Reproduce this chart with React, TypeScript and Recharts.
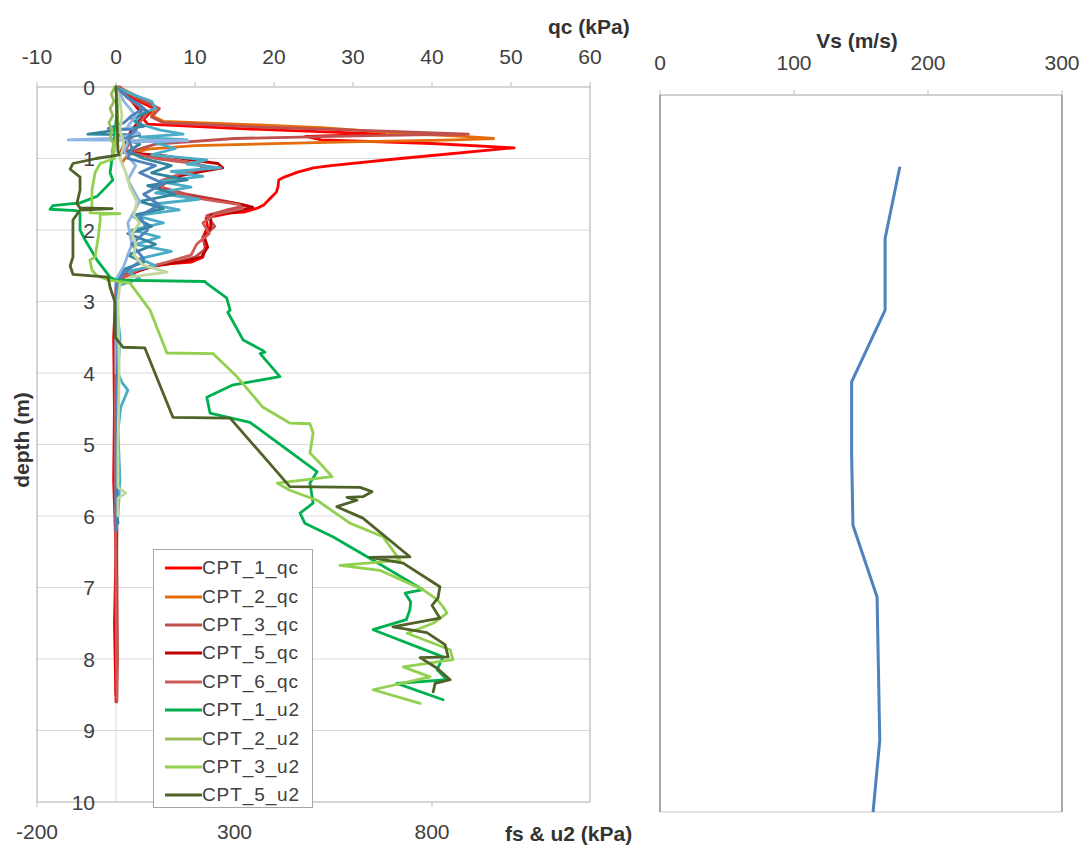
import React from "react";
import {
  ScatterChart,
  Scatter,
  XAxis,
  YAxis,
  CartesianGrid,
  ReferenceLine,
  Legend,
} from "recharts";

// depth (m), value
type Row = [number, number];

const depthTicks = [0, 1, 2, 3, 4, 5, 6, 7, 8, 9, 10];
const qcTicks = [-10, 0, 10, 20, 30, 40, 50, 60];
const fsTicks = [-200, 300, 800];
const vsTicks = [0, 100, 200, 300];

// ---- qc (kPa), top axis ----
const cpt1Qc: Row[] = [
  [0, 0.5], [0.15, 2], [0.3, 4.8], [0.45, 3.5], [0.52, 4], [0.58, 15], [0.66, 34], [0.69, 24],
  [0.74, 26], [0.79, 40], [0.85, 50.4], [1.0, 36], [1.1, 27.2], [1.13, 25], [1.19, 23],
  [1.26, 21.3], [1.3, 20.6], [1.4, 20.5], [1.47, 20.3], [1.55, 19.6], [1.65, 18.7], [1.69, 18],
  [1.75, 16.2], [1.76, 14.6], [1.83, 11.4], [1.96, 11.6], [2.1, 11], [2.24, 11.3], [2.38, 11],
  [2.45, 9.5], [2.47, 7], [2.52, 4], [2.66, 1], [2.8, 0], [3.5, -0.3], [4.5, -0.2], [5.5, -0.3],
  [6.5, 0], [7.5, -0.2], [8.6, 0],
];
const cpt2Qc: Row[] = [
  [0, 0.3], [0.12, 2.5], [0.28, 5], [0.4, 4.5], [0.48, 6], [0.53, 18], [0.57, 26], [0.6, 30],
  [0.65, 36], [0.69, 44], [0.72, 47.8], [0.74, 43], [0.77, 28], [0.82, 10], [0.87, 4],
  [0.95, 1.5], [1.05, 0.8],
];
const cpt3Qc: Row[] = [
  [0, 0.3], [0.15, 2.5], [0.3, 5.5], [0.42, 4.5], [0.5, 6], [0.56, 18], [0.62, 35], [0.66, 44.6],
  [0.68, 32], [0.72, 15], [0.8, 5], [0.9, 2], [0.97, 4], [1.05, 9], [1.12, 12], [1.18, 9.5],
  [1.28, 6.5], [1.38, 5], [1.5, 9], [1.6, 14], [1.66, 16.5], [1.72, 14], [1.8, 11.5],
  [1.95, 12.5], [2.1, 11], [2.25, 11.5], [2.38, 10], [2.45, 7.5], [2.52, 4], [2.62, 1.2],
  [2.75, 0.2], [3.5, 0.1], [5, 0.2], [6.5, 0.1], [8, 0.2], [8.6, 0.1],
];
const cpt5Qc: Row[] = [
  [0, 0], [0.2, 2], [0.4, 3.5], [0.6, 2], [0.8, 1], [0.91, 0.6], [0.96, 6], [1.02, 9.5],
  [1.07, 12.9], [1.13, 13.5], [1.19, 10.4], [1.26, 7.3], [1.35, 6.1], [1.41, 5.4], [1.49, 7],
  [1.56, 11.1], [1.63, 15.4], [1.68, 17.3], [1.75, 15], [1.79, 12], [1.96, 12], [2.1, 11.2],
  [2.24, 11.6], [2.38, 10.8], [2.45, 8.2], [2.49, 5.3], [2.6, 1.9], [2.7, 0.3], [3, 0],
  [5, 0.1], [7, 0], [8.5, 0],
];
const cpt6Qc: Row[] = [
  [0, 0.2], [0.2, 2], [0.35, 4], [0.5, 3], [0.7, 2], [0.9, 1.2], [1.0, 5], [1.08, 10.5],
  [1.15, 11], [1.22, 8], [1.32, 5.5], [1.45, 6], [1.55, 10], [1.64, 15.5], [1.7, 16],
  [1.78, 12.5], [1.9, 11], [2.05, 11.8], [2.2, 10.2], [2.35, 9.5], [2.45, 6.5], [2.55, 3],
  [2.68, 0.5], [3, 0], [5, -0.1], [7, 0], [8.55, 0.1],
];

// ---- fs (kPa), bottom axis, not in legend ----
const cpt1Fs: Row[] = [
  [0, 0], [0.1, 40], [0.2, 90], [0.3, 100], [0.38, 60], [0.5, 50], [0.6, 110], [0.66, 170],
  [0.7, 60], [0.74, 180], [0.78, 100], [0.86, 150], [0.95, 90], [1.02, 230], [1.08, 180],
  [1.13, 265], [1.18, 140], [1.25, 220], [1.32, 110], [1.4, 190], [1.48, 100], [1.57, 210],
  [1.64, 90], [1.72, 160], [1.8, 50], [1.9, 120], [2.0, 40], [2.1, 110], [2.2, 50], [2.3, 140],
  [2.4, 60], [2.5, 100], [2.58, 30], [2.68, 60], [2.78, 5], [3.0, 0], [3.5, 10], [4.0, 5],
  [4.13, 15], [4.24, 30], [4.48, 12], [4.8, 5], [5.5, 10], [6.0, 5], [6.2, 0],
];
const cpt2Fs: Row[] = [
  [0, 0], [0.15, 30], [0.25, 60], [0.35, 80], [0.45, 40], [0.55, 70], [0.66, -71], [0.67, 60],
  [0.72, 20], [0.8, 60], [0.9, 30], [1.0, 70], [1.1, 140], [1.2, 90], [1.3, 180], [1.38, 80],
  [1.5, 150], [1.6, 60], [1.7, 120], [1.8, 40], [1.95, 90], [2.05, 30], [2.2, 100], [2.35, 30],
  [2.45, 70], [2.55, 20], [2.7, 5], [3.5, 0], [5.0, 5], [5.8, 0], [6.1, 5],
];
const cpt3Fs: Row[] = [
  [0, 0], [0.2, 20], [0.4, 50], [0.55, 30], [0.65, 60], [0.72, -10], [0.74, -121], [0.75, 182],
  [0.77, 30], [0.9, 20], [1.1, 50], [1.3, 30], [1.6, 60], [1.9, 30], [2.2, 40], [2.5, 20],
  [2.7, 0], [4.0, 0],
];
const cpt5Fs: Row[] = [
  [0, 0], [0.15, 30], [0.3, 70], [0.4, 40], [0.5, 20], [0.58, -20], [0.6, 50], [0.7, 30],
  [0.85, 40], [1.0, 30], [1.1, 100], [1.2, 60], [1.35, 120], [1.5, 70], [1.65, 110], [1.8, 60],
  [2.0, 80], [2.2, 40], [2.4, 70], [2.6, 20], [2.75, 0], [3.5, 5], [5, 0], [6.2, 0],
];
const cpt6Fs: Row[] = [
  [0, 0], [0.2, 10], [0.4, 15], [0.6, 10], [0.8, 20], [1.0, 10], [1.2, 25], [1.4, 35],
  [1.6, 53], [1.8, 45], [1.9, 60], [2.05, 40], [2.2, 50], [2.35, 45], [2.49, 68], [2.59, 129],
  [2.66, 35], [2.75, 10], [3.0, 5], [4.0, 8], [5.0, 5], [5.6, 5], [5.68, 25], [5.75, 5], [6.0, 5],
];

// ---- u2 (kPa), bottom axis ----
const cpt1U2: Row[] = [
  [0, 0], [0.3, 3], [0.6, -2], [0.92, -8], [1.2, -15], [1.3, -8], [1.4, -25], [1.53, -48],
  [1.62, -91], [1.66, -160], [1.71, -167], [1.73, -100], [1.77, -91], [2.0, -91], [2.14, -78],
  [2.42, -48], [2.66, -15], [2.7, 0], [2.72, 225], [2.74, 228], [2.95, 280], [3.12, 289],
  [3.15, 283], [3.54, 322], [3.68, 370], [3.71, 377], [3.73, 365], [4.05, 415], [4.17, 294],
  [4.34, 230], [4.56, 238], [4.69, 339], [5.38, 509], [5.54, 491], [5.82, 499], [5.96, 466],
  [6.1, 478], [6.29, 549], [6.62, 651], [7.03, 777], [7.08, 732], [7.2, 746], [7.31, 744],
  [7.45, 735], [7.59, 651], [7.97, 828], [8.15, 813], [8.29, 838], [8.34, 711], [8.57, 828],
];
const cpt2U2: Row[] = [
  [0, -3], [0.1, -12], [0.2, -5], [0.3, -15], [0.4, -8], [0.5, -18], [0.6, -10], [0.7, -14],
  [0.8, -6], [0.9, -10], [1.0, -5],
];
const cpt3U2: Row[] = [
  [0, 0], [0.5, 5], [0.9, -5], [1.0, -5], [1.07, -40], [1.2, -53], [1.45, -61], [1.7, -61],
  [1.76, -66], [1.77, 10], [1.78, -40], [1.86, -40], [2.1, -45], [2.38, -53], [2.42, -66],
  [2.56, -61], [2.64, -48], [2.7, -20], [2.74, 35], [2.8, 43], [3.12, 86], [3.72, 129],
  [3.73, 246], [4.05, 306], [4.48, 372], [4.7, 440], [4.71, 491], [4.84, 499], [5.12, 491],
  [5.26, 516], [5.45, 547], [5.54, 408], [5.64, 440], [5.78, 509], [6.1, 592], [6.29, 676],
  [6.62, 719], [6.69, 567], [6.76, 668], [7.03, 777], [7.17, 813], [7.27, 828], [7.36, 838],
  [7.5, 803], [7.64, 737], [7.87, 846], [8.01, 853], [8.11, 727], [8.25, 795], [8.43, 651],
  [8.62, 770],
];
const cpt5U2: Row[] = [
  [0, 0], [0.9, 5], [0.95, 8], [1.0, -50], [1.07, -109], [1.15, -116], [1.26, -91],
  [1.44, -91], [1.63, -99], [1.69, -91], [1.7, -10], [1.72, -91], [1.86, -109], [2.38, -109],
  [2.5, -116], [2.62, -109], [2.66, -20], [2.8, -15], [3.0, -3], [3.5, -2], [3.64, 18],
  [3.65, 73], [4.62, 144], [4.63, 289], [5.59, 440], [5.6, 618], [5.66, 648], [5.73, 625],
  [5.74, 585], [5.78, 610], [5.87, 559], [6.03, 625], [6.57, 744], [6.58, 643], [6.66, 727],
  [6.99, 820], [7.15, 815], [7.25, 800], [7.43, 820], [7.55, 701], [7.63, 787], [7.8, 833],
  [7.97, 841], [7.98, 770], [8.13, 813], [8.29, 846], [8.34, 808], [8.46, 803],
];

// ---- Vs (m/s) ----
const vsDepth = [1, 2, 3, 4, 5, 6, 7, 8, 9, 10];
const vsValues = [179, 168, 168, 143, 143, 144, 162, 163, 164, 159];

const qcSeries = [
  { name: "CPT_1_qc", color: "#FF0000", rows: cpt1Qc },
  { name: "CPT_2_qc", color: "#E46C0A", rows: cpt2Qc },
  { name: "CPT_3_qc", color: "#C0504D", rows: cpt3Qc },
  { name: "CPT_5_qc", color: "#C00000", rows: cpt5Qc },
  { name: "CPT_6_qc", color: "#CD5B57", rows: cpt6Qc },
];
const fsSeries = [
  { name: "CPT_1_fs", color: "#4BACC6", rows: cpt1Fs },
  { name: "CPT_2_fs", color: "#31859C", rows: cpt2Fs },
  { name: "CPT_3_fs", color: "#8DB4E2", rows: cpt3Fs },
  { name: "CPT_5_fs", color: "#4F81BD", rows: cpt5Fs },
  { name: "CPT_6_fs", color: "#C4D79B", rows: cpt6Fs },
];
const u2Series = [
  { name: "CPT_1_u2", color: "#00B050", rows: cpt1U2 },
  { name: "CPT_2_u2", color: "#9BBB59", rows: cpt2U2 },
  { name: "CPT_3_u2", color: "#92D050", rows: cpt3U2 },
  { name: "CPT_5_u2", color: "#4F6228", rows: cpt5U2 },
];

const toPts = (rows: Row[]) => rows.map(([d, v]) => ({ d, v }));
const vsPts = vsDepth.map((d, i) => ({ d, v: vsValues[i] }));

const FONT = '"Liberation Sans", Arial, sans-serif';
const TXT = "#404040";
const TICK_FS = 21;
const LINE_W = 2.8;
const noDot = () => <g />;

// left plot frame in page px
const L_LEFT = 37;
const L_WIDTH = 553;
const zeroX = L_LEFT + ((0 - qcTicks[0]) / (qcTicks[qcTicks.length - 1] - qcTicks[0])) * L_WIDTH;

const DepthTick = (props: any) => (
  <text x={zeroX - 21} y={props.y} dy={7.5} textAnchor="end" fill={TXT} fontSize={TICK_FS}>
    {props.payload.value}
  </text>
);

const LegendBox = () => (
  <div
    style={{
      width: 160,
      height: 259,
      border: "1px solid #a6a6a6",
      background: "#fff",
      boxSizing: "border-box",
      paddingTop: 4,
      fontFamily: FONT,
    }}
  >
    {[...qcSeries, ...u2Series].map((s) => (
      <div key={s.name} style={{ display: "flex", alignItems: "center", height: 28.4 }}>
        <svg width={48} height={10}>
          <line x1={11} x2={48} y1={5} y2={5} stroke={s.color} strokeWidth={3} />
        </svg>
        <span style={{ fontSize: 19, color: TXT, letterSpacing: 0.9 }}>{s.name}</span>
      </div>
    ))}
  </div>
);

const title: React.CSSProperties = {
  position: "absolute",
  fontWeight: "bold",
  fontSize: 21,
  lineHeight: "24px",
  color: "#333",
  whiteSpace: "nowrap",
};

const traceLine = (color: string) => ({
  stroke: color,
  strokeWidth: LINE_W,
  strokeLinejoin: "round" as const,
  strokeLinecap: "round" as const,
});

export default function App() {
  return (
    <div
      style={{
        position: "absolute",
        left: 0,
        top: 0,
        width: 1083,
        height: 850,
        background: "#fff",
        fontFamily: FONT,
        overflow: "hidden",
      }}
    >
      <div style={{ position: "absolute", left: 0, top: 0 }}>
        <ScatterChart width={650} height={850} margin={{ top: 47, right: 10, bottom: 0, left: 0 }}>
          <CartesianGrid xAxisId="qc" yAxisId="l" vertical={false} stroke="#d9d9d9" />
          <XAxis
            xAxisId="qc"
            orientation="top"
            type="number"
            dataKey="v"
            domain={[-10, 60]}
            ticks={qcTicks}
            height={40}
            tickSize={5}
            tickMargin={18}
            allowDataOverflow
            axisLine={{ stroke: "#bfbfbf" }}
            tickLine={{ stroke: "#bfbfbf" }}
            tick={{ fill: TXT, fontSize: TICK_FS }}
          />
          <XAxis
            xAxisId="fs"
            orientation="bottom"
            type="number"
            dataKey="v"
            domain={[-200, 1200]}
            ticks={fsTicks}
            height={48}
            tickSize={5}
            tickMargin={17}
            allowDataOverflow
            axisLine={{ stroke: "#bfbfbf" }}
            tickLine={{ stroke: "#bfbfbf" }}
            tick={{ fill: TXT, fontSize: TICK_FS }}
          />
          <YAxis
            yAxisId="l"
            type="number"
            dataKey="d"
            domain={[0, 10]}
            ticks={depthTicks}
            reversed
            width={37}
            tickLine={false}
            axisLine={{ stroke: "#a6a6a6" }}
            tick={(p: any) => <DepthTick {...p} />}
          />
          <YAxis
            yAxisId="r"
            orientation="right"
            type="number"
            dataKey="d"
            domain={[0, 10]}
            ticks={depthTicks}
            reversed
            width={50}
            tickSize={7}
            tickMargin={10}
            axisLine={{ stroke: "#a6a6a6" }}
            tickLine={{ stroke: "#bfbfbf" }}
            tick={{ fill: TXT, fontSize: TICK_FS }}
          />
          <ReferenceLine xAxisId="qc" yAxisId="l" x={0} stroke="#d9d9d9" />
          {qcSeries.map((s) => (
            <Scatter
              key={s.name}
              name={s.name}
              data={toPts(s.rows)}
              xAxisId="qc"
              yAxisId="l"
              fill={s.color}
              line={traceLine(s.color)}
              shape={noDot}
              legendType="none"
              isAnimationActive={false}
            />
          ))}
          {fsSeries.map((s) => (
            <Scatter
              key={s.name}
              name={s.name}
              data={toPts(s.rows)}
              xAxisId="fs"
              yAxisId="l"
              fill={s.color}
              line={traceLine(s.color)}
              shape={noDot}
              legendType="none"
              isAnimationActive={false}
            />
          ))}
          {u2Series.map((s) => (
            <Scatter
              key={s.name}
              name={s.name}
              data={toPts(s.rows)}
              xAxisId="fs"
              yAxisId="l"
              fill={s.color}
              line={traceLine(s.color)}
              shape={noDot}
              legendType="none"
              isAnimationActive={false}
            />
          ))}
          <Legend
            layout="horizontal"
            align="center"
            verticalAlign="middle"
            wrapperStyle={{ left: 153, top: 549, width: 160 }}
            content={() => <LegendBox />}
          />
        </ScatterChart>
      </div>

      <div style={{ position: "absolute", left: 620, top: 0 }}>
        <ScatterChart width={463} height={850} margin={{ top: 55, right: 10, bottom: 38, left: 0 }}>
          <CartesianGrid xAxisId="vs" yAxisId="l" vertical={false} stroke="#c8c8c8" />
          <XAxis
            xAxisId="vs"
            orientation="top"
            type="number"
            dataKey="v"
            domain={[0, 300]}
            ticks={vsTicks}
            height={40}
            tickSize={5}
            tickMargin={20}
            axisLine={{ stroke: "#bfbfbf" }}
            tickLine={{ stroke: "#bfbfbf" }}
            tick={{ fill: TXT, fontSize: TICK_FS }}
          />
          <YAxis
            yAxisId="l"
            type="number"
            dataKey="d"
            domain={[0, 10]}
            ticks={depthTicks}
            reversed
            width={40}
            tick={false}
            tickLine={false}
            axisLine={{ stroke: "#8c8c8c", strokeWidth: 1.5 }}
          />
          <YAxis
            yAxisId="r"
            orientation="right"
            type="number"
            dataKey="d"
            domain={[0, 10]}
            ticks={depthTicks}
            reversed
            width={11}
            tick={false}
            tickLine={false}
            axisLine={{ stroke: "#8c8c8c", strokeWidth: 1.5 }}
          />
          <Scatter
            name="Vs"
            data={vsPts}
            xAxisId="vs"
            yAxisId="l"
            fill="#4F81BD"
            line={{ stroke: "#4F81BD", strokeWidth: 3, strokeLinejoin: "round" }}
            shape={noDot}
            isAnimationActive={false}
          />
        </ScatterChart>
      </div>

      <div style={{ ...title, left: 548, top: 15 }}>qc (kPa)</div>
      <div style={{ ...title, left: 505, top: 822 }}>fs &amp; u2 (kPa)</div>
      <div
        style={{
          ...title,
          left: 22,
          top: 440,
          transform: "translate(-50%, -50%) rotate(-90deg)",
        }}
      >
        depth (m)
      </div>
      <div style={{ ...title, left: 857, top: 29, transform: "translateX(-50%)" }}>Vs (m/s)</div>
    </div>
  );
}
